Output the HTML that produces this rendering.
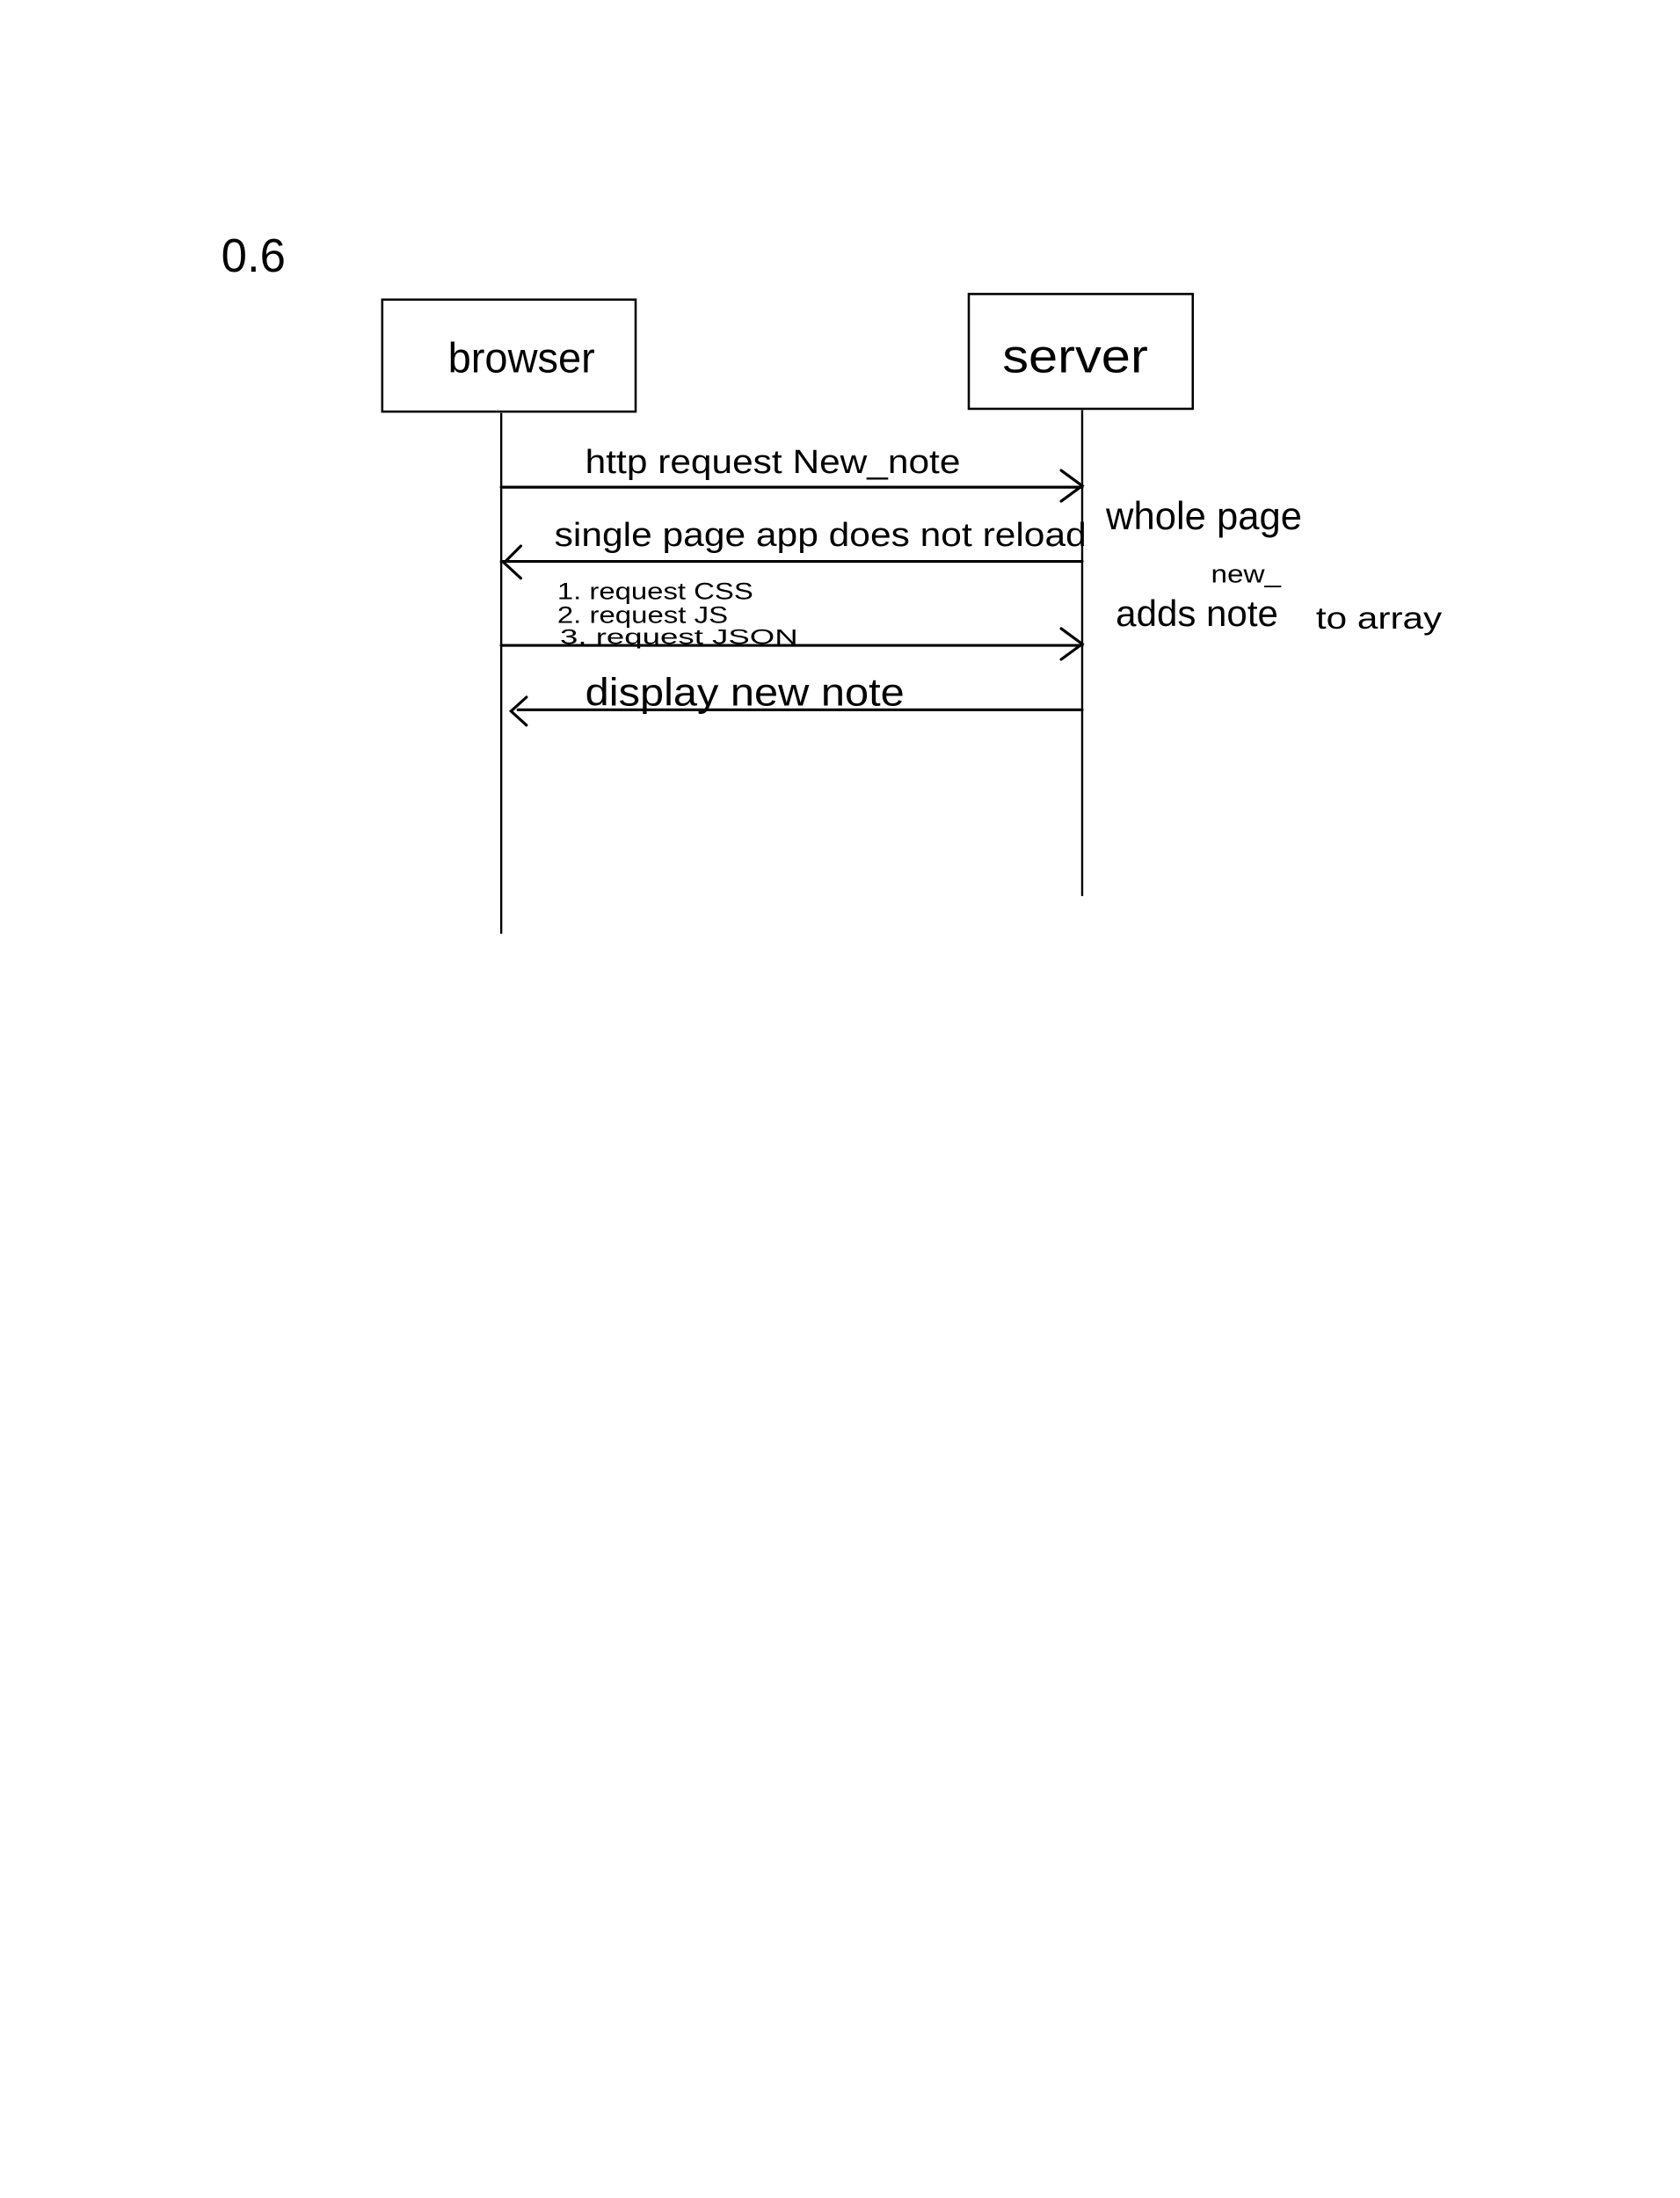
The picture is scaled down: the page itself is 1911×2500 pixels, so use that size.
<!DOCTYPE html>
<html><head><meta charset="utf-8"><style>
html,body{margin:0;padding:0;background:#fff;}
svg{display:block;}
text{font-family:"Liberation Sans",sans-serif;fill:#000;}
</style></head><body>
<svg width="1911" height="2500" viewBox="0 0 1200 1570" xmlns="http://www.w3.org/2000/svg">
<rect width="1200" height="1570" fill="#fff"/>
<text x="158" y="194" font-size="34" textLength="46" lengthAdjust="spacingAndGlyphs">0.6</text>
<rect x="273" y="214" width="181" height="80" fill="none" stroke="#000" stroke-width="1.6"/>
<rect x="692" y="210" width="160" height="82" fill="none" stroke="#000" stroke-width="1.6"/>
<text x="320" y="266" font-size="30" textLength="105" lengthAdjust="spacingAndGlyphs">browser</text>
<text x="716" y="266" font-size="34" textLength="104" lengthAdjust="spacingAndGlyphs">server</text>
<line x1="358" y1="295" x2="358" y2="667" stroke="#000" stroke-width="1.5"/>
<line x1="773" y1="293" x2="773" y2="640" stroke="#000" stroke-width="1.5"/>
<g stroke="#000" stroke-width="2" fill="none" stroke-linecap="round">
<line x1="358" y1="348" x2="773" y2="348"/><polyline points="758,336 773,347 758,358"/>
<line x1="358" y1="401" x2="773" y2="401"/><polyline points="372,390 360,402 372,413"/>
<line x1="358" y1="461" x2="773" y2="461"/><polyline points="758,449 773,460 758,471"/>
<line x1="370" y1="507" x2="773" y2="507"/><polyline points="376,498 365,508 376,518"/>
</g>
<text x="418" y="338" font-size="24" textLength="268" lengthAdjust="spacingAndGlyphs">http request New_note</text>
<text x="396" y="390" font-size="24" textLength="380" lengthAdjust="spacingAndGlyphs">single page app does not reload</text>
<text x="790" y="378" font-size="28" textLength="140" lengthAdjust="spacingAndGlyphs">whole page</text>
<text x="398" y="428" font-size="17" textLength="140" lengthAdjust="spacingAndGlyphs">1. request CSS</text>
<text x="398" y="445" font-size="17" textLength="122" lengthAdjust="spacingAndGlyphs">2. request JS</text>
<text x="400" y="460" font-size="15" textLength="170" lengthAdjust="spacingAndGlyphs">3. request   JSON</text>
<text x="418" y="504" font-size="28" textLength="228" lengthAdjust="spacingAndGlyphs">display new note</text>
<text x="865" y="416" font-size="18" textLength="50" lengthAdjust="spacingAndGlyphs">new_</text>
<text x="797" y="447" font-size="26" textLength="116" lengthAdjust="spacingAndGlyphs">adds note</text>
<text x="940" y="449" font-size="22" textLength="90" lengthAdjust="spacingAndGlyphs">to array</text>
</svg>
</body></html>
